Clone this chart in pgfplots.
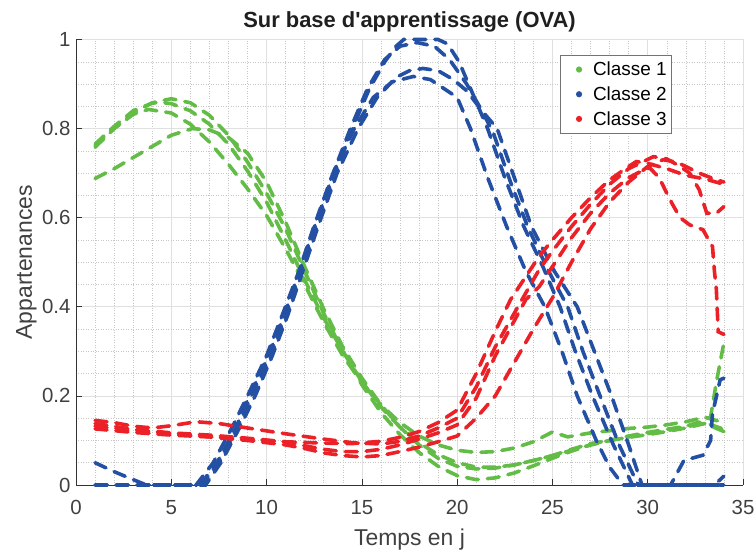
\documentclass[border=0pt]{standalone}
\usepackage{fontspec}
\setmainfont{Liberation Sans}
\usepackage{pgfplots}
\pgfplotsset{compat=1.18}
\definecolor{cg}{RGB}{98,188,70}
\definecolor{cb}{RGB}{36,80,164}
\definecolor{cr}{RGB}{236,32,39}
\definecolor{txt}{RGB}{64,64,64}
\begin{document}
\begin{tikzpicture}
\useasboundingbox (0,0) rectangle (755bp,552bp);
\begin{axis}[
  at={(76bp,67bp)}, anchor=south west,
  scale only axis, width=667bp, height=445.5bp,
  xmin=0, xmax=35, ymin=0, ymax=1,
  xtick={0,5,...,35}, ytick={0,0.2,...,1},
  minor x tick num=4, minor y tick num=3,
  grid=both,
  major grid style={draw=black!12, line width=0.6bp},
  minor grid style={draw=black!22, line width=0.5bp, dotted},
  axis x line*=bottom, axis y line*=left,
  axis line style={draw=black!80, line width=0.7bp},
  tick align=inside, major tick length=6bp, minor tick length=0pt,
  tick style={draw=black!80, line width=0.7bp},
  /pgf/number format/assume math mode=true,
  ticklabel style={font=\fontsize{20.5}{22}\selectfont, text=txt},
  xticklabel style={yshift=-12bp},
  yticklabel style={xshift=-2bp},
  xlabel={Temps en j}, ylabel={Appartenances},
  label style={font=\fontsize{23}{25}\selectfont, text=txt},
  xlabel style={at={(axis description cs:0.5,0)}, anchor=base, yshift=-60bp},
  ylabel style={at={(axis description cs:0,0.5)}, anchor=base, xshift=0bp, yshift=44bp},
  title={Sur base d\textquotesingle apprentissage (OVA)},
  title style={font=\bfseries\fontsize{22}{24}\selectfont, text=black!88, at={(axis description cs:0.5,1)}, anchor=base, yshift=6bp},
  clip=false,
  legend style={at={(axis description cs:0.8936,0.965)}, anchor=north east, draw=black!55, line width=0.7bp, font=\fontsize{19}{21}\selectfont, row sep=5.5bp, inner xsep=3bp, inner ysep=4.5bp},
  legend cell align=left,
  legend image code/.code={\path[draw=none, fill=none] (0bp,-3bp) rectangle (28bp,3bp); \fill[#1, draw=none, solid] (16bp,0bp) circle (3.1bp);},
  every axis plot/.append style={line width=3.6bp, line cap=round, dash pattern=on 12bp off 9bp},
]
% ---------- Classe 1 (green)
\addplot[cg, forget plot] coordinates {(1,0.762)(2,0.80)(3,0.835)(4,0.858)(5,0.867)(6,0.858)(7,0.83)(8,0.785)(9,0.725)(10,0.655)(11,0.575)(12,0.48)(13,0.385)(14,0.30)(15,0.225)(16,0.163)(17,0.113)(18,0.073)(19,0.042)(20,0.021)(21,0.012)(22,0.016)(23,0.027)(24,0.043)(25,0.06)(26,0.076)(27,0.09)(28,0.10)(29,0.108)(30,0.115)(31,0.122)(32,0.13)(33,0.14)(34,0.125)};
\addplot[cg, forget plot] coordinates {(1,0.765)(2,0.805)(3,0.84)(4,0.857)(4.4,0.859)(5,0.856)(6,0.84)(7,0.81)(8,0.765)(9,0.705)(10,0.635)(11,0.55)(12,0.46)(13,0.375)(14,0.30)(15,0.232)(16,0.175)(17,0.13)(18,0.095)(19,0.068)(20,0.05)(21,0.04)(22,0.04)(23,0.045)(24,0.055)(25,0.066)(26,0.078)(27,0.09)(28,0.10)(29,0.11)(30,0.118)(31,0.125)(32,0.132)(33,0.145)(33.3,0.153)(33.6,0.23)(34,0.32)};
\addplot[cg, forget plot] coordinates {(1,0.758)(2,0.80)(3,0.832)(3.8,0.843)(5,0.835)(6,0.81)(7,0.77)(8,0.72)(9,0.665)(10,0.605)(11,0.53)(12,0.45)(13,0.365)(14,0.29)(15,0.23)(16,0.18)(17,0.14)(18,0.11)(19,0.09)(20,0.078)(21,0.073)(22,0.075)(23,0.083)(24,0.097)(24.5,0.108)(25,0.119)(25.8,0.108)(27,0.117)(28,0.122)(29,0.127)(30,0.13)(31,0.135)(32,0.142)(33,0.152)(34,0.14)};
\addplot[cg, forget plot] coordinates {(1,0.688)(2,0.71)(3,0.735)(4,0.76)(5,0.785)(6.1,0.80)(7,0.797)(8,0.78)(9,0.745)(10,0.68)(11,0.59)(12,0.49)(13,0.395)(14,0.31)(15,0.24)(16,0.18)(17,0.13)(18,0.09)(19,0.06)(20,0.042)(21,0.036)(22,0.038)(23,0.045)(24,0.055)(25,0.066)(26,0.08)(27,0.093)(28,0.10)(29,0.107)(30,0.113)(31,0.12)(32,0.128)(33,0.138)(34,0.12)};
% ---------- Classe 2 (blue)
\addplot[cb, forget plot] coordinates {(1,0)(6.6,0)(7.5,0.05)(8.5,0.13)(9.2,0.2)(10.2,0.29)(11,0.38)(11.8,0.48)(12.5,0.57)(13.5,0.69)(14.5,0.80)(15.4,0.89)(16.2,0.95)(16.8,0.985)(17.2,1.0)(19.0,1.0)(19.5,0.99)(20.1,0.95)(20.8,0.88)(21.6,0.8)(22.5,0.69)(23.5,0.58)(24.5,0.49)(25.4,0.4)(26.2,0.3)(27.1,0.2)(28.2,0.09)(29.2,0)(31.2,0)(31.9,0.055)(32.9,0.067)(33.3,0.1)(33.4,0.16)(33.8,0.236)(34,0.24)};
\addplot[cb, forget plot] coordinates {(1,0.05)(2,0.03)(3,0.012)(3.7,0)(6.3,0)(7.2,0.05)(8.2,0.13)(9,0.2)(10,0.29)(10.9,0.39)(11.7,0.48)(12.4,0.57)(13.4,0.69)(14.4,0.8)(15.3,0.89)(16.2,0.955)(17,0.985)(17.9,0.993)(18.8,0.985)(19.6,0.955)(20.5,0.9)(21.3,0.84)(21.9,0.79)(22.8,0.68)(23.7,0.58)(24.8,0.48)(25.8,0.4)(26.6,0.3)(27.5,0.2)(28.5,0.09)(29.5,0)(34,0)};
\addplot[cb, forget plot] coordinates {(1,0)(6.8,0)(7.6,0.05)(8.6,0.13)(9.4,0.2)(10.3,0.29)(11.1,0.38)(11.9,0.48)(12.7,0.58)(13.7,0.7)(14.8,0.8)(15.8,0.87)(16.8,0.915)(17.5,0.93)(18.2,0.935)(19,0.93)(19.8,0.91)(20.5,0.885)(21.3,0.84)(22.1,0.8)(23,0.69)(23.9,0.58)(25.1,0.48)(26.3,0.4)(27.2,0.3)(28.1,0.2)(29,0.09)(29.7,0)(33.5,0)(34,0.02)};
\addplot[cb, forget plot] coordinates {(1,0)(6.5,0)(7.4,0.05)(8.4,0.13)(9.1,0.2)(10.1,0.29)(11,0.39)(11.8,0.49)(12.6,0.59)(13.6,0.71)(14.6,0.8)(15.6,0.87)(16.6,0.905)(17.7,0.917)(18.6,0.91)(19.3,0.89)(20,0.87)(20.7,0.8)(21.6,0.69)(22.6,0.58)(23.6,0.48)(24.6,0.4)(25.5,0.3)(26.3,0.2)(27.3,0.1)(28,0.04)(28.7,0)(34,0)};
% ---------- Classe 3 (red)
\addplot[cr, forget plot] coordinates {(1,0.132)(3,0.122)(5,0.115)(7,0.108)(9,0.102)(11,0.097)(13,0.094)(14.5,0.093)(16,0.098)(17,0.107)(18,0.12)(19,0.14)(20,0.168)(21,0.25)(22,0.345)(22.8,0.416)(24.3,0.513)(25,0.55)(26,0.6)(27,0.645)(28,0.685)(29,0.715)(29.4,0.726)(30,0.722)(31,0.71)(32,0.695)(33,0.687)(34,0.675)};
\addplot[cr, forget plot] coordinates {(1,0.145)(2,0.14)(3,0.132)(4,0.128)(5,0.133)(6.3,0.142)(7.5,0.138)(9,0.128)(11,0.115)(13,0.103)(14.5,0.095)(16,0.092)(17,0.098)(18,0.11)(19,0.128)(20,0.15)(21,0.22)(22,0.31)(23.4,0.416)(24.3,0.483)(25,0.525)(26,0.58)(27,0.63)(28,0.675)(29,0.71)(30.3,0.737)(31,0.732)(31.7,0.715)(32.2,0.70)(32.7,0.663)(33.1,0.61)(33.6,0.61)(34,0.625)};
\addplot[cr, forget plot] coordinates {(1,0.138)(3,0.125)(5,0.117)(7,0.112)(9,0.105)(11,0.097)(12,0.088)(13,0.08)(14,0.075)(15,0.075)(16,0.08)(17,0.09)(18,0.103)(19,0.117)(20,0.135)(21,0.195)(22,0.29)(23.6,0.416)(24.3,0.445)(25,0.49)(26,0.555)(27,0.61)(28,0.655)(29,0.69)(29.6,0.703)(30.1,0.712)(30.6,0.69)(31,0.655)(31.3,0.63)(31.7,0.60)(32.2,0.584)(32.9,0.573)(33.4,0.535)(33.5,0.48)(33.6,0.44)(33.7,0.344)(34,0.338)};
\addplot[cr, forget plot] coordinates {(1,0.126)(3,0.118)(5,0.112)(7,0.108)(9,0.1)(11,0.09)(12,0.082)(13,0.072)(14,0.066)(15,0.063)(16,0.066)(17,0.075)(18,0.085)(19,0.097)(20,0.11)(21,0.15)(22,0.2)(23,0.275)(24,0.35)(25,0.42)(26,0.5)(27,0.575)(28,0.635)(29,0.68)(30,0.715)(30.8,0.73)(31.5,0.725)(32,0.715)(32.7,0.70)(33.3,0.69)(34,0.68)};
% legend
\addlegendimage{cg}
\addlegendentry{Classe 1}
\addlegendimage{cb}
\addlegendentry{Classe 2}
\addlegendimage{cr}
\addlegendentry{Classe 3}
\end{axis}
\end{tikzpicture}
\end{document}
